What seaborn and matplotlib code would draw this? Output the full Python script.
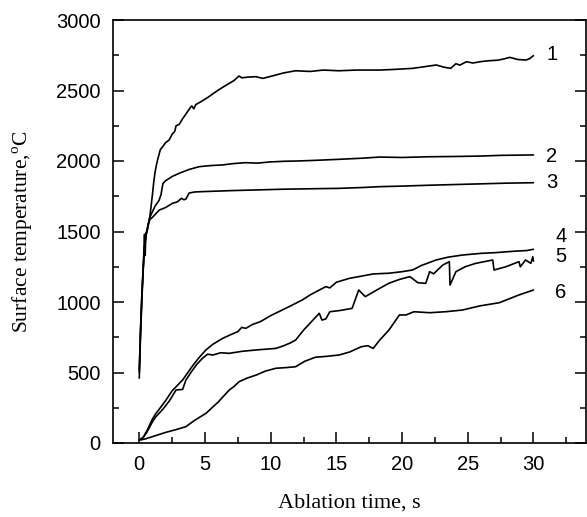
import pandas as pd
import matplotlib
matplotlib.use("Agg")
import matplotlib.pyplot as plt
import seaborn as sns
from matplotlib.ticker import MultipleLocator

# ===== DATA =====
t1 = [0.0, 0.1, 0.2, 0.3, 0.4, 0.45, 0.5, 0.6, 0.7, 0.8, 0.9, 1.0, 1.1, 1.2, 1.3, 1.4, 1.6, 1.77, 2.0,
      2.28, 2.5, 2.7, 2.8, 3.04, 3.3, 3.6, 3.93, 4.0, 4.15, 4.3, 4.7, 5.2, 5.84, 6.3, 6.85, 7.2, 7.6, 7.8,
      8.3, 8.88, 9.4, 10.0, 11.0, 11.9, 13.0, 14.0, 15.2, 16.5, 18.3, 19.5, 20.8, 21.8, 22.6, 23.2, 23.7,
      24.1, 24.4, 24.9, 25.4, 26.0, 26.6, 27.3, 27.8, 28.2, 28.8, 29.4, 29.7, 30.0]
T1 = [500, 800, 1050, 1250, 1480, 1330, 1490, 1500, 1560, 1600, 1680, 1760, 1850, 1920, 1970, 2010, 2080,
      2100, 2130, 2150, 2190, 2210, 2250, 2260, 2300, 2340, 2385, 2390, 2370, 2400, 2421, 2450, 2492, 2520,
      2551, 2570, 2603, 2590, 2595, 2598, 2586, 2600, 2625, 2640, 2635, 2645, 2640, 2645, 2645, 2650, 2657,
      2670, 2681, 2665, 2657, 2690, 2680, 2704, 2695, 2705, 2711, 2715, 2725, 2735, 2720, 2716, 2725, 2747]

t2 = [0.0, 0.1, 0.2, 0.3, 0.4, 0.5, 0.6, 0.7, 0.8, 1.0, 1.2, 1.5, 1.65, 1.8, 2.0, 2.5, 3.04, 3.8, 4.57,
      5.5, 6.34, 7.2, 8.1, 9.0, 9.9, 11.0, 12.0, 13.5, 15.2, 17.0, 18.3, 20.0, 22.0, 24.0, 26.0, 27.5, 30.0]
T2 = [520, 820, 1060, 1240, 1380, 1470, 1520, 1560, 1600, 1640, 1680, 1720, 1760, 1840, 1860, 1890, 1913,
      1940, 1960, 1968, 1972, 1982, 1988, 1985, 1993, 1998, 2000, 2005, 2012, 2020, 2028, 2025, 2030, 2032,
      2035, 2040, 2043]

t3 = [0.0, 0.1, 0.2, 0.3, 0.4, 0.5, 0.6, 0.7, 0.8, 1.0, 1.3, 1.52, 2.0, 2.53, 2.9, 3.2, 3.4, 3.55, 3.8,
      4.2, 4.57, 5.5, 7.0, 9.0, 11.0, 13.0, 15.2, 17.0, 18.3, 20.0, 22.0, 24.0, 26.0, 28.0, 30.0]
T3 = [460, 780, 1020, 1230, 1400, 1460, 1510, 1550, 1585, 1600, 1630, 1652, 1670, 1700, 1710, 1735, 1725,
      1730, 1773, 1780, 1782, 1785, 1790, 1795, 1800, 1803, 1806, 1812, 1818, 1822, 1828, 1833, 1838, 1843,
      1846]

t4 = [0.0, 0.3, 0.6, 1.0, 1.27, 1.6, 2.0, 2.5, 3.3, 4.0, 4.5, 5.07, 5.6, 6.34, 7.0, 7.5, 7.8, 8.1, 8.6,
      9.2, 10.1, 10.7, 11.4, 12.4, 13.0, 13.6, 14.2, 14.5, 15.0, 16.0, 17.0, 17.8, 19.0, 20.0, 20.8, 21.5,
      22.6, 23.5, 24.6, 26.0, 27.1, 28.5, 29.5, 30.0]
T4 = [20, 40, 90, 170, 210, 250, 300, 370, 447, 540, 600, 660, 700, 742, 770, 790, 820, 813, 840, 860, 908,
      935, 967, 1014, 1050, 1080, 1109, 1100, 1140, 1168, 1185, 1199, 1204, 1215, 1227, 1260, 1298, 1318,
      1333, 1345, 1350, 1360, 1365, 1374]

t5 = [0.0, 0.3, 0.6, 1.0, 1.27, 1.8, 2.3, 2.8, 3.3, 3.55, 4.0, 4.4, 4.8, 5.2, 5.6, 6.2, 6.85, 7.8, 8.9,
      9.6, 10.4, 11.0, 11.5, 11.9, 12.5, 13.2, 13.7, 13.9, 14.2, 14.5, 15.3, 16.2, 16.7, 17.2, 18.3, 19.0,
      19.8, 20.6, 21.2, 21.8, 22.1, 22.4, 23.1, 23.6, 23.65, 24.1, 24.8, 25.6, 26.9, 27.0, 27.9, 28.9, 29.0,
      29.4, 29.8, 29.95, 30.0]
T5 = [20, 40, 80, 150, 187, 240, 300, 376, 380, 447, 510, 560, 600, 630, 624, 640, 636, 650, 660, 665, 671,
      690, 710, 730, 800, 870, 920, 872, 880, 931, 940, 955, 1085, 1038, 1097, 1133, 1160, 1180, 1137, 1132,
      1215, 1200, 1262, 1286, 1120, 1215, 1250, 1274, 1298, 1227, 1250, 1286, 1250, 1298, 1274, 1321, 1290]

t6 = [0.0, 0.5, 1.0, 1.5, 2.0, 2.8, 3.55, 4.2, 5.07, 6.0, 6.85, 7.2, 7.6, 8.2, 8.9, 9.6, 10.4, 11.2, 11.9,
      12.6, 13.4, 14.3, 15.2, 16.0, 16.9, 17.4, 17.8, 18.3, 19.0, 19.8, 20.3, 20.9, 22.1, 23.3, 24.6, 25.9,
      27.4, 28.9, 30.0]
T6 = [20, 30, 45, 60, 75, 95, 116, 160, 210, 290, 376, 400, 435, 460, 482, 510, 530, 535, 541, 580, 608,
      615, 624, 645, 683, 690, 671, 730, 801, 908, 908, 931, 924, 931, 943, 972, 995, 1050, 1085]

curves = {"1": (t1, T1), "2": (t2, T2), "3": (t3, T3),
          "4": (t4, T4), "5": (t5, T5), "6": (t6, T6)}

frames = []
for name, (tt, TT) in curves.items():
    frames.append(pd.DataFrame({"time": tt, "temp": TT, "curve": name}))
df = pd.concat(frames, ignore_index=True)

# ===== PLOT =====
sns.set_style("ticks")
plt.rcParams["font.family"] = ["Liberation Sans", "DejaVu Sans"]
plt.rcParams["mathtext.fontset"] = "custom"
plt.rcParams["mathtext.rm"] = "Liberation Serif"
plt.rcParams["text.color"] = "black"
plt.rcParams["axes.labelcolor"] = "black"

fig = plt.figure(figsize=(5.87, 5.17), dpi=100)
ax = fig.add_axes([113 / 587, 74 / 517, 473 / 587, 423 / 517])

sns.lineplot(data=df, x="time", y="temp", hue="curve", units="curve", estimator=None, sort=False,
             palette={k: "black" for k in curves}, linewidth=1.2, legend=False, ax=ax)

ax.set_xlim(-2, 34)
ax.set_ylim(0, 3000)
ax.xaxis.set_major_locator(MultipleLocator(5))
ax.xaxis.set_minor_locator(MultipleLocator(2.5))
ax.yaxis.set_major_locator(MultipleLocator(500))
ax.yaxis.set_minor_locator(MultipleLocator(250))
ax.set_xticks(range(0, 31, 5))

for sp in ax.spines.values():
    sp.set_visible(True)
    sp.set_linewidth(1.2)
    sp.set_color("black")

ax.tick_params(which="both", direction="in", left=True, right=True, bottom=True, top=False,
               labelsize=14.5, color="black", labelcolor="black", width=1.1)
ax.tick_params(which="major", length=8, pad=9)
ax.tick_params(which="minor", length=4.5)

ax.set_xlabel("Ablation time, s", fontsize=16, family="Liberation Serif", labelpad=14)
ax.set_ylabel("Surface temperature,$^{\\rm o}$C", fontsize=15.5, family="Liberation Serif", labelpad=15)

# curve numbers at the right end
label_pos = {"1": (31.4, 2752), "2": (31.4, 2035), "3": (31.4, 1846),
             "4": (32.1, 1463), "5": (32.1, 1321), "6": (32.1, 1065)}
for name, (lx, ly) in label_pos.items():
    ax.text(lx, ly, name, fontsize=14.5, ha="center", va="center")

fig.savefig("out.png", dpi=100)
